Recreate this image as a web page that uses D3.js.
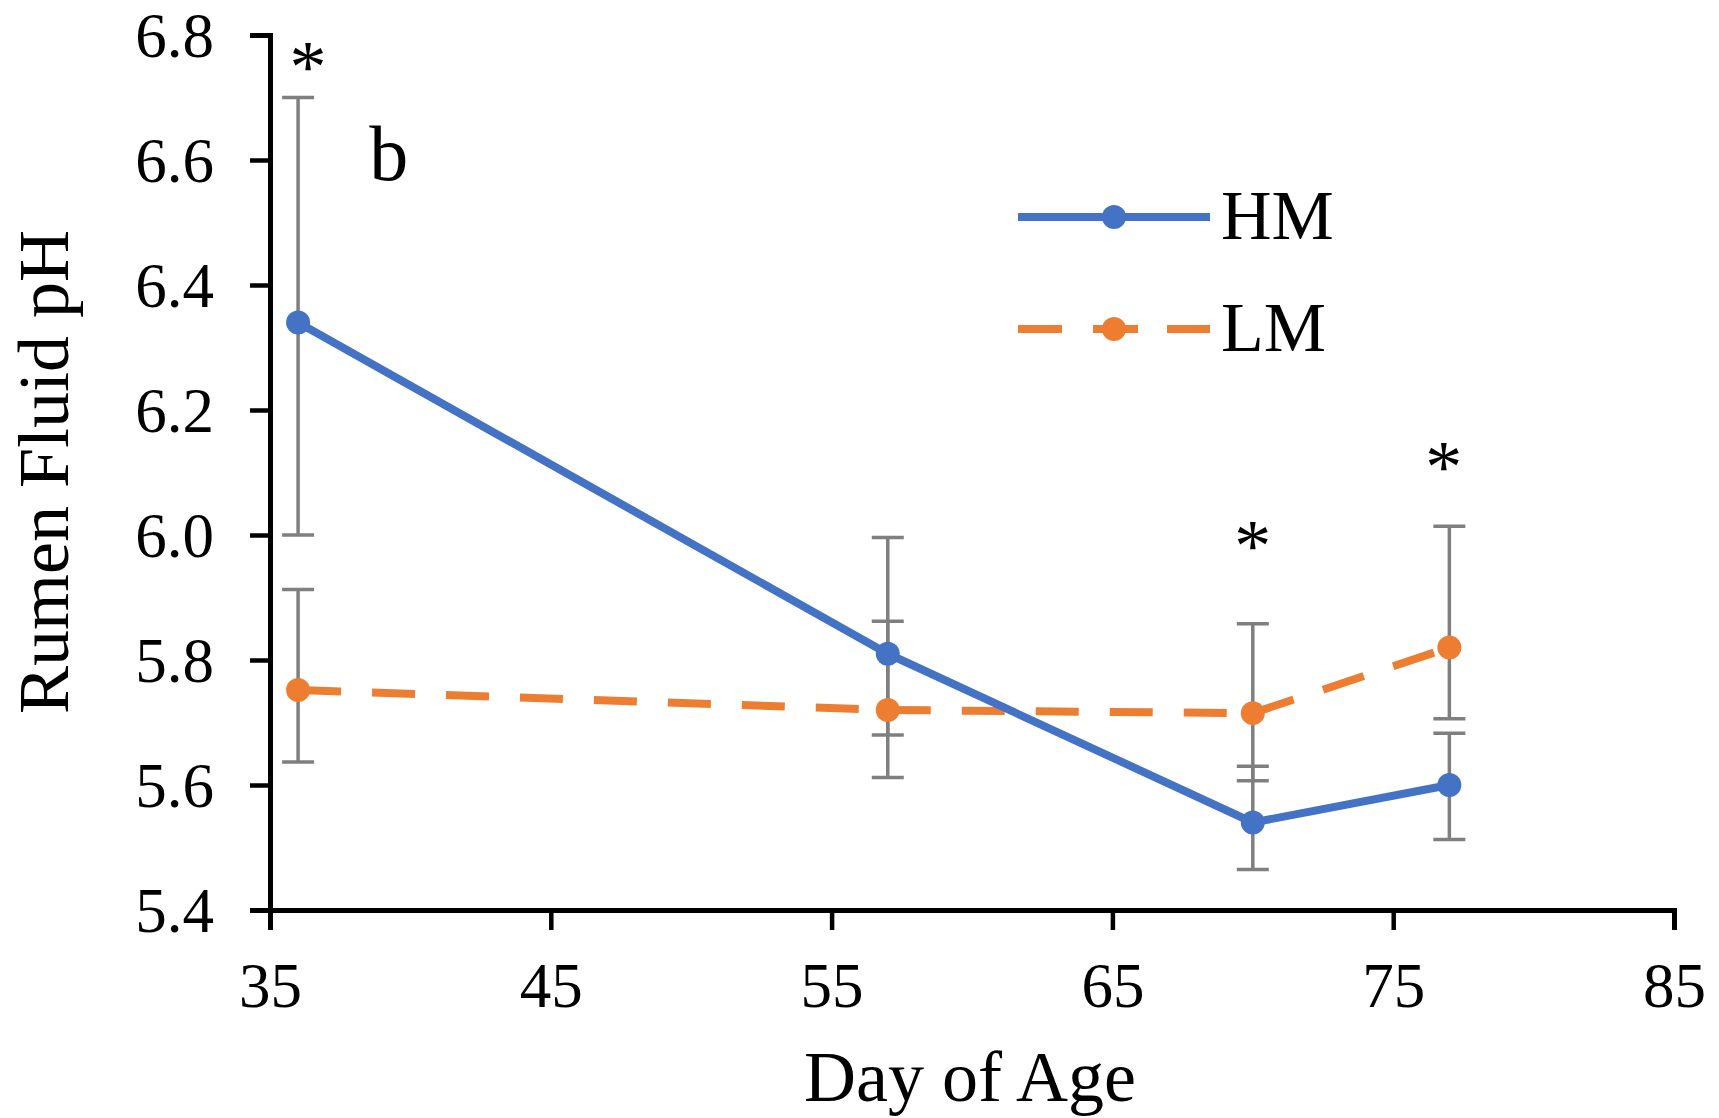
<!DOCTYPE html>
<html>
<head>
<meta charset="utf-8">
<script src="https://cdn.jsdelivr.net/npm/d3@7"></script>
<style>
  html, body { margin: 0; padding: 0; background: #fff; }
  svg { display: block; }
  text { font-family: "Liberation Serif", "Times New Roman", serif; fill: #000; }
</style>
</head>
<body>
<svg id="chart" width="1719" height="1118"></svg>
<script>
// Rumen fluid pH by day of age, two treatment groups
const days = [36, 57, 70, 77];
const hmPH = [6.34, 5.81, 5.54, 5.60];
const lmPH = [5.752, 5.72, 5.715, 5.82];
const hmErrUp = [0.36, 0.186, 0.09, 0.083];
const hmErrDown = [0.34, 0.13, 0.075, 0.087];
const lmErrUp = [0.161, 0.142, 0.143, 0.194];
const lmErrDown = [0.115, 0.108, 0.108, 0.114];

const xTicks = [35, 45, 55, 65, 75, 85];
const yTicks = [5.4, 5.6, 5.8, 6.0, 6.2, 6.4, 6.6, 6.8];

// significance marks (day, pH at mark centre)
const starDays = [36.35, 70.0, 76.8];
const starPH = [6.766, 6.0, 6.125];

const seriesNames = ["HM", "LM"];
const panelLabel = "b";
const xTitle = "Day of Age";
const yTitle = "Rumen Fluid pH";

const blue = "#4472C4", orange = "#ED7D31", errGrey = "#7f7f7f";
const lineW = 8, markerR = 12;

const svg = d3.select("#chart");
const x = d3.scaleLinear().domain([35, 85]).range([270, 1674]);
const y = d3.scaleLinear().domain([5.4, 6.8]).range([910, 35]);

// axes
const yAxis = svg.append("g").attr("transform", `translate(${x(35)},0)`)
  .call(d3.axisLeft(y).tickValues(yTicks).tickSize(20).tickPadding(36)
    .tickFormat(d3.format(".1f")));
const xAxis = svg.append("g").attr("transform", `translate(0,${y(5.4)})`)
  .call(d3.axisBottom(x).tickValues(xTicks).tickSize(20).tickPadding(32)
    .tickFormat(d3.format("d")));
[yAxis, xAxis].forEach(g => {
  g.select(".domain").attr("stroke", "#000").attr("stroke-width", 5);
  g.selectAll(".tick line").attr("stroke", "#000").attr("stroke-width", 4.5);
  g.selectAll(".tick text").attr("font-size", 63)
    .attr("font-family", "Liberation Serif, serif").attr("fill", "#111");
});
yAxis.selectAll(".tick text").attr("dy", "0.34em");

// axis titles
svg.append("text").attr("x", 970).attr("y", 1101)
  .attr("text-anchor", "middle").attr("font-size", 72).attr("fill", "#111").text(xTitle);
svg.append("text").attr("transform", "translate(68,472) rotate(-90)")
  .attr("text-anchor", "middle").attr("font-size", 72).attr("fill", "#111").text(yTitle);

// error bars
const errG = svg.append("g");
function errorBars(vals, up, down) {
  days.forEach((d, i) => {
    const cx = x(d), y1 = y(vals[i] + up[i]), y0 = y(vals[i] - down[i]);
    errG.append("line").attr("x1", cx).attr("x2", cx).attr("y1", y1).attr("y2", y0)
      .attr("stroke", errGrey).attr("stroke-width", 3.5);
    [y1, y0].forEach(yy => errG.append("line")
      .attr("x1", cx - 16).attr("x2", cx + 16).attr("y1", yy).attr("y2", yy)
      .attr("stroke", errGrey).attr("stroke-width", 3.5));
  });
}
errorBars(hmPH, hmErrUp, hmErrDown);
errorBars(lmPH, lmErrUp, lmErrDown);

// LM: dashed, the dash pattern restarting at each point
const lmG = svg.append("g");
for (let i = 0; i < days.length - 1; i++) {
  lmG.append("line")
    .attr("x1", x(days[i])).attr("y1", y(lmPH[i]))
    .attr("x2", x(days[i + 1])).attr("y2", y(lmPH[i + 1]))
    .attr("stroke", orange).attr("stroke-width", lineW)
    .attr("stroke-dasharray", "43,31").attr("stroke-linecap", "butt");
}
lmG.selectAll("circle").data(days).join("circle")
  .attr("cx", d => x(d)).attr("cy", (d, i) => y(lmPH[i])).attr("r", markerR)
  .attr("fill", orange);

// HM: solid
const line = d3.line().x(d => x(d[0])).y(d => y(d[1]));
const hmG = svg.append("g");
hmG.append("path").datum(days.map((d, i) => [d, hmPH[i]])).attr("d", line)
  .attr("fill", "none").attr("stroke", blue).attr("stroke-width", lineW)
  .attr("stroke-linejoin", "round");
hmG.selectAll("circle").data(days).join("circle")
  .attr("cx", d => x(d)).attr("cy", (d, i) => y(hmPH[i])).attr("r", markerR)
  .attr("fill", blue);

// significance asterisks
const starSize = 74;
svg.selectAll("text.star").data(starDays).join("text").attr("class", "star")
  .attr("x", d => x(d)).attr("y", (d, i) => y(starPH[i]) + starSize * 0.48)
  .attr("text-anchor", "middle").attr("font-size", starSize).attr("fill", "#222").text("*");

// panel label
svg.append("text").attr("x", x(39.23)).attr("y", y(6.568))
  .attr("text-anchor", "middle").attr("font-size", 78).attr("fill", "#111").text(panelLabel);

// legend
const legend = svg.append("g");
const legendRows = [
  { name: seriesNames[0], color: blue, dashed: false, y: 217 },
  { name: seriesNames[1], color: orange, dashed: true, y: 329 }
];
legendRows.forEach(r => {
  if (r.dashed) {
    [[1018, 1062], [1093, 1138], [1167, 1210]].forEach(s => legend.append("line")
      .attr("x1", s[0]).attr("x2", s[1]).attr("y1", r.y).attr("y2", r.y)
      .attr("stroke", r.color).attr("stroke-width", lineW));
  } else {
    legend.append("line").attr("x1", 1018).attr("x2", 1210)
      .attr("y1", r.y).attr("y2", r.y)
      .attr("stroke", r.color).attr("stroke-width", lineW);
  }
  legend.append("circle").attr("cx", 1114).attr("cy", r.y).attr("r", markerR)
    .attr("fill", r.color);
  legend.append("text").attr("x", 1221).attr("y", r.y + 22)
    .attr("font-size", 70).attr("fill", "#111").text(r.name);
});
</script>
</body>
</html>
